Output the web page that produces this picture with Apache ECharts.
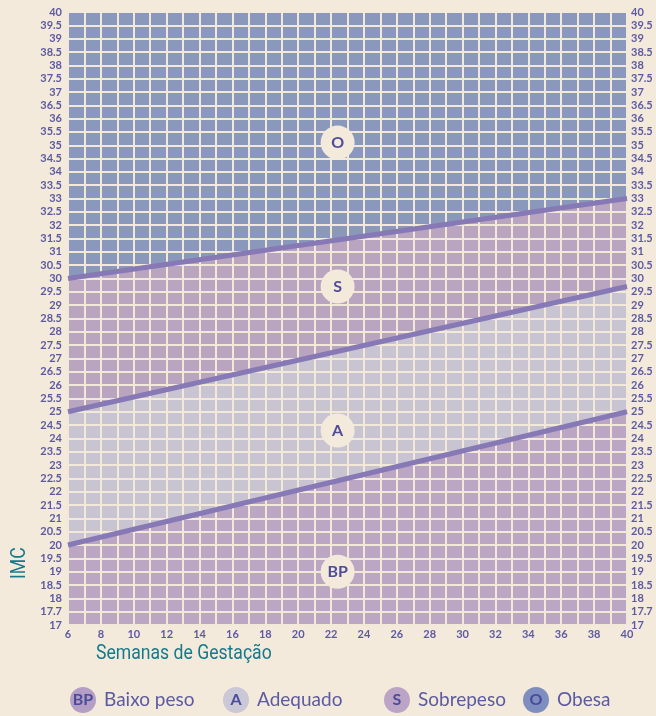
<!DOCTYPE html>
<html>
<head>
<meta charset="utf-8">
<script src="https://cdn.jsdelivr.net/npm/echarts@6/dist/echarts.min.js"></script>
<style>
    html, body { margin: 0; padding: 0; background: #f3eadb; }
    #chart { width: 656px; height: 716px; }
</style>
</head>
<body>
<div id="chart"></div>
<script>
    // semanas de gestação (eixo x) e IMC (eixo y)
    const weeks = [6, 40];
    const imcMin = 17, imcMax = 40;
    // limites entre faixas, no início (6 sem.) e no fim (40 sem.)
    const limitBpA = [20, 25];
    const limitAS = [25, 29.7];
    const limitSO = [30, 33];
    const topLimit = [40, 40];
    // rótulos das faixas dentro do gráfico
    const zoneLabels = ['O', 'S', 'A', 'BP'];
    const zoneLabelX = [22.4, 22.4, 22.4, 22.4];
    const zoneLabelY = [35.1, 29.7, 24.3, 19.0];
    // legenda
    const legendCodes = ['BP', 'A', 'S', 'O'];
    const legendNames = ['Baixo peso', 'Adequado', 'Sobrepeso', 'Obesa'];
    const legendColors = ['#b49ec6', '#cac7d7', '#bca4c6', '#7f8ec0'];

    const pts = (arr) => weeks.map((w, i) => [w, arr[i]]);

    const tickColor = '#5d5aa2';
    const font = 'Lato, "Noto Sans", sans-serif';

    const area = (arr, color) => ({
        type: 'line',
        data: pts(arr),
        symbol: 'none',
        z: 1,
        lineStyle: {width: 0},
        areaStyle: {color: color, opacity: 1, origin: 'start'},
        silent: true
    });
    const border = (arr) => ({
        type: 'line',
        data: pts(arr),
        symbol: 'none',
        z: 5,
        lineStyle: {width: 5, color: '#8779b6'},
        silent: true
    });

    const yLabel = (v) => {
        if (Math.abs(v - 17.5) < 0.01) return '17.7';
        return String(v);
    };
    const yAxisBase = (pos) => ({
        type: 'value',
        position: pos,
        min: imcMin,
        max: imcMax,
        interval: 0.5,
        z: 3,
        axisLine: {show: false},
        axisTick: {show: false},
        splitLine: {show: pos === 'left', lineStyle: {color: '#f2e9d8', width: 2}},
        axisLabel: {
            color: tickColor, fontSize: 11, fontWeight: 'bold', fontFamily: font,
            margin: pos === 'left' ? 6 : 4, formatter: yLabel
        }
    });

    let chart = echarts.init(document.getElementById('chart'));
    let legendGraphics = [];
    const legendX = [83, 236, 397, 536];
    legendCodes.forEach((c, i) => {
        legendGraphics.push({
            type: 'circle', shape: {cx: legendX[i], cy: 700, r: 13},
            style: {fill: legendColors[i]}
        });
        legendGraphics.push({
            type: 'text', x: legendX[i], y: 700,
            style: {
                text: c, fill: '#4b4b98', font: 'bold 16px ' + font,
                align: 'center', verticalAlign: 'middle'
            }
        });
        legendGraphics.push({
            type: 'text', x: legendX[i] + 21, y: 700,
            style: {
                text: legendNames[i], fill: '#5b5aa2', font: '19px ' + font,
                align: 'left', verticalAlign: 'middle'
            }
        });
    });

    chart.setOption({
        backgroundColor: '#f3eadb',
        animation: false,
        grid: {left: 68, right: 29, top: 12, bottom: 91},
        xAxis: {
            type: 'value',
            min: weeks[0],
            max: weeks[1],
            interval: 1,
            z: 3,
            axisLine: {show: false},
            axisTick: {show: false},
            splitLine: {show: true, lineStyle: {color: '#f2e9d8', width: 2}},
            axisLabel: {
                color: tickColor, fontSize: 11, fontWeight: 'bold', fontFamily: font, margin: 4,
                formatter: (v) => (v % 2 === 0 ? String(v) : '')
            }
        },
        yAxis: [yAxisBase('left'), yAxisBase('right')],
        graphic: [
            {
                type: 'text', x: 96, y: 654, scaleX: 0.88,
                style: {text: 'Semanas de Gestação', fill: '#137a8c', font: '20px "Liberation Sans Narrow", "Roboto", sans-serif', verticalAlign: 'middle'}
            },
            {
                type: 'text', x: 20, y: 579, rotation: Math.PI / 2, scaleX: 0.88,
                style: {text: 'IMC', fill: '#137a8c', font: '20px "Liberation Sans Narrow", "Roboto", sans-serif', verticalAlign: 'middle'}
            }
        ].concat(legendGraphics),
        series: [
            area(topLimit, '#8998bb'),
            area(limitSO, '#baa5c0'),
            area(limitAS, '#c8c4d1'),
            area(limitBpA, '#bba6c3'),
            border(limitSO),
            border(limitAS),
            border(limitBpA),
            {
                type: 'scatter',
                z: 6,
                symbolSize: 34,
                itemStyle: {color: '#f3eadb', opacity: 1},
                data: zoneLabels.map((l, i) => ({value: [zoneLabelX[i], zoneLabelY[i]], name: l})),
                label: {
                    show: true, position: 'inside', formatter: '{b}',
                    color: '#4f4c9c', fontSize: 16, fontWeight: 'bold', fontFamily: font
                },
                silent: true
            }
        ]
    });
</script>
</body>
</html>
